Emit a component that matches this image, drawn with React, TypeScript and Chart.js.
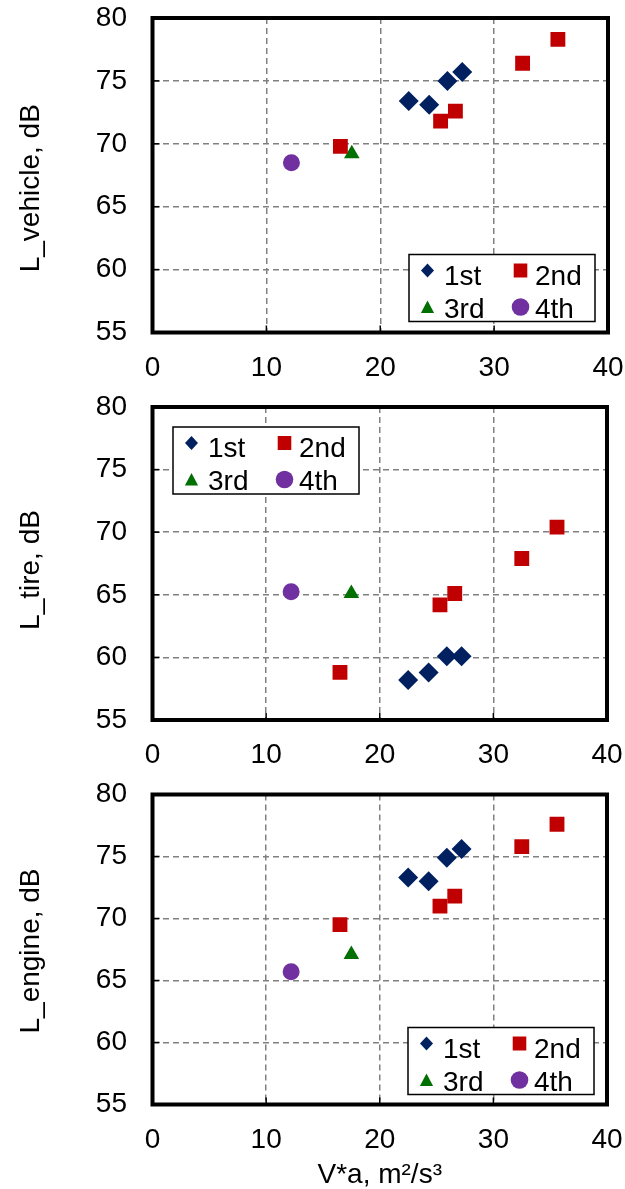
import React, { useEffect, useRef } from "react";
import { Chart, registerables } from "chart.js";

Chart.register(...registerables);

const FONT = '"Liberation Sans", Arial, Helvetica, sans-serif';

// Gear names shown in the legends
const gearLabels = ["1st", "2nd", "3rd", "4th"];

// V*a values (m²/s³) per gear, shared by all three panels
const gear1X = [22.5, 24.3, 25.9, 27.2];
const gear2X = [16.5, 25.3, 26.6, 32.5, 35.6];
const gear3X = [17.5];
const gear4X = [12.2];

// L_vehicle, dB
const vehicle1st = [73.4, 73.1, 75.0, 75.7];
const vehicle2nd = [69.8, 71.8, 72.6, 76.4, 78.3];
const vehicle3rd = [69.2];
const vehicle4th = [68.5];

// L_tire, dB
const tire1st = [58.2, 58.8, 60.1, 60.1];
const tire2nd = [58.8, 64.2, 65.1, 67.9, 70.4];
const tire3rd = [65.1];
const tire4th = [65.25];

// L_engine, dB
const engine1st = [73.3, 73.0, 74.9, 75.6];
const engine2nd = [69.5, 71.0, 71.8, 75.8, 77.6];
const engine3rd = [67.1];
const engine4th = [65.7];

// Axis ranges
const xMin = 0;
const xMax = 40;
const xStep = 10;
const yMin = 55;
const yMax = 80;
const yStep = 5;

const xTitle = "V*a, m²/s³";

// Marker look for each gear
const gearStyles = [
  { pointStyle: "rectRot", color: "#002060", radius: 10 },
  { pointStyle: "rect", color: "#C00000", radius: 10.5 },
  { pointStyle: "triangle", color: "#007000", radius: 9 },
  { pointStyle: "circle", color: "#7030A0", radius: 8.5 },
];

const gearXs = [gear1X, gear2X, gear3X, gear4X];

function buildDatasets(ys: number[][]) {
  return gearLabels.map((label, i) => ({
    label,
    data: gearXs[i].map((x, j) => ({ x, y: ys[i][j] })),
    pointStyle: gearStyles[i].pointStyle,
    pointRadius: gearStyles[i].radius,
    pointHoverRadius: gearStyles[i].radius,
    backgroundColor: gearStyles[i].color,
    borderColor: gearStyles[i].color,
    borderWidth: 0,
    pointBorderWidth: 0,
    showLine: false,
  }));
}

// Small legend marker shapes
function drawLegendMarker(ctx: CanvasRenderingContext2D, style: string, x: number, y: number, color: string) {
  ctx.fillStyle = color;
  ctx.beginPath();
  if (style === "rectRot") {
    ctx.moveTo(x, y - 7);
    ctx.lineTo(x + 6.5, y);
    ctx.lineTo(x, y + 7);
    ctx.lineTo(x - 6.5, y);
    ctx.closePath();
  } else if (style === "rect") {
    ctx.rect(x - 6.8, y - 7, 13.6, 14);
  } else if (style === "triangle") {
    ctx.moveTo(x, y - 6.5);
    ctx.lineTo(x + 6.6, y + 6);
    ctx.lineTo(x - 6.6, y + 6);
    ctx.closePath();
  } else {
    ctx.arc(x, y, 8.8, 0, Math.PI * 2);
  }
  ctx.fill();
}

// Boxed 2x2 legend placed inside the plot area
function boxLegend(corner: "tl" | "br", gapX: number, gapY: number) {
  return {
    id: "boxLegend",
    afterDatasetsDraw(chart: any) {
      const { ctx, chartArea: a } = chart;
      const W = 186;
      const H = 67;
      const left = corner === "tl" ? a.left + gapX : a.right - gapX - W;
      const top = corner === "tl" ? a.top + gapY : a.bottom - gapY - H;
      ctx.save();
      ctx.fillStyle = "#ffffff";
      ctx.fillRect(left, top, W, H);
      ctx.strokeStyle = "#000000";
      ctx.lineWidth = 1.5;
      ctx.strokeRect(left, top, W, H);
      chart.data.datasets.forEach((ds: any, i: number) => {
        const col = i % 2;
        const row = Math.floor(i / 2);
        const mx = left + (col ? 111.5 : 18.5);
        const my = top + (row ? 52.5 : 16);
        drawLegendMarker(ctx, ds.pointStyle, mx, my, ds.backgroundColor);
        ctx.fillStyle = "#000000";
        ctx.font = `28px ${FONT}`;
        ctx.textAlign = "left";
        ctx.textBaseline = "alphabetic";
        ctx.fillText(ds.label, left + (col ? 126 : 35), top + (row ? 63 : 30));
      });
      ctx.restore();
    },
  };
}

// Heavy frame around the plot with short inward tick marks
const framePlugin = {
  id: "plotFrame",
  beforeDatasetsDraw(chart: any) {
    const { ctx, chartArea: a, scales } = chart;
    ctx.save();
    ctx.strokeStyle = "#000000";
    ctx.lineWidth = 1.5;
    scales.x.ticks.forEach((t: any) => {
      if (t.value <= xMin || t.value >= xMax) return;
      const px = scales.x.getPixelForValue(t.value);
      ctx.beginPath();
      ctx.moveTo(px, a.bottom);
      ctx.lineTo(px, a.bottom - 7);
      ctx.stroke();
    });
    scales.y.ticks.forEach((t: any) => {
      if (t.value <= yMin || t.value >= yMax) return;
      const py = scales.y.getPixelForValue(t.value);
      ctx.beginPath();
      ctx.moveTo(a.left, py);
      ctx.lineTo(a.left + 7, py);
      ctx.stroke();
    });
    ctx.lineWidth = 4;
    ctx.strokeRect(a.left, a.top, a.right - a.left, a.bottom - a.top);
    ctx.restore();
  },
};

// Rotated y-axis title drawn beside the tick labels
function sideTitle(text: string, shift: number) {
  return {
    id: "sideTitle",
    afterDraw(chart: any) {
      const { ctx, chartArea: a } = chart;
      ctx.save();
      ctx.translate(39, (a.top + a.bottom) / 2 + shift);
      ctx.rotate(-Math.PI / 2);
      ctx.fillStyle = "#000000";
      ctx.font = `28px ${FONT}`;
      ctx.textAlign = "center";
      ctx.textBaseline = "alphabetic";
      ctx.fillText(text, 0, 0);
      ctx.restore();
    },
  };
}

const gridColor = (edgeMin: number, edgeMax: number) => (c: any) =>
  c.tick && (c.tick.value <= edgeMin || c.tick.value >= edgeMax) ? "rgba(0,0,0,0)" : "#808080";

type PanelProps = {
  top: number;
  height: number;
  padTop: number;
  padRight: number;
  xAxisHeight: number;
  yTitle: string;
  titleShift: number;
  ys: number[][];
  legendCorner: "tl" | "br";
  legendGapX: number;
  legendGapY: number;
  showXTitle: boolean;
};

function Panel(p: PanelProps) {
  const ref = useRef<HTMLCanvasElement | null>(null);

  useEffect(() => {
    if (!ref.current) return;
    const chart = new Chart(ref.current, {
      type: "scatter",
      data: { datasets: buildDatasets(p.ys) as any },
      options: {
        animation: false,
        responsive: false,
        devicePixelRatio: 1,
        events: [],
        layout: { padding: { left: 0, right: p.padRight, top: p.padTop, bottom: 0 } },
        plugins: {
          legend: { display: false },
          tooltip: { enabled: false },
        },
        scales: {
          x: {
            type: "linear",
            min: xMin,
            max: xMax,
            afterFit: (s: any) => {
              s.height = p.xAxisHeight;
              s.paddingLeft = 0;
              s.paddingRight = 0;
            },
            ticks: {
              stepSize: xStep,
              padding: 18.5,
              maxRotation: 0,
              color: "#000000",
              font: { family: FONT, size: 28 },
            },
            grid: {
              color: gridColor(xMin, xMax),
              lineWidth: 1.5,
              drawTicks: false,
            },
            border: { display: false, dash: [6, 4] },
            title: {
              display: p.showXTitle,
              text: xTitle,
              color: "#000000",
              font: { family: FONT, size: 28, lineHeight: 1 },
              padding: { top: 0, bottom: 0 },
            },
          },
          y: {
            type: "linear",
            min: yMin,
            max: yMax,
            afterFit: (s: any) => {
              s.width = 152.5;
              s.paddingTop = 0;
              s.paddingBottom = 0;
            },
            ticks: {
              stepSize: yStep,
              padding: 25.5,
              color: "#000000",
              font: { family: FONT, size: 28 },
            },
            grid: {
              color: gridColor(yMin, yMax),
              lineWidth: 1.5,
              drawTicks: false,
            },
            border: { display: false, dash: [6, 4] },
          },
        },
      } as any,
      plugins: [
        framePlugin,
        boxLegend(p.legendCorner, p.legendGapX, p.legendGapY),
        sideTitle(p.yTitle, p.titleShift),
      ] as any,
    });
    return () => chart.destroy();
  }, []);

  return (
    <canvas
      ref={ref}
      width={625}
      height={p.height}
      style={{ position: "absolute", left: 0, top: p.top, width: 625, height: p.height, display: "block" }}
    />
  );
}

export default function App() {
  return (
    <div style={{ position: "absolute", left: 0, top: 0, width: 625, height: 1189, background: "#ffffff" }}>
      <Panel
        top={0}
        height={390}
        padTop={18}
        padRight={17}
        xAxisHeight={57.5}
        yTitle="L_vehicle, dB"
        titleShift={13}
        ys={[vehicle1st, vehicle2nd, vehicle3rd, vehicle4th]}
        legendCorner="br"
        legendGapX={13}
        legendGapY={11}
        showXTitle={false}
      />
      <Panel
        top={390}
        height={390}
        padTop={17}
        padRight={18}
        xAxisHeight={60}
        yTitle="L_tire, dB"
        titleShift={6.5}
        ys={[tire1st, tire2nd, tire3rd, tire4th]}
        legendCorner="tl"
        legendGapX={20.5}
        legendGapY={20}
        showXTitle={false}
      />
      <Panel
        top={780}
        height={409}
        padTop={14.5}
        padRight={18}
        xAxisHeight={84.5}
        yTitle="L_engine, dB"
        titleShift={1.5}
        ys={[engine1st, engine2nd, engine3rd, engine4th]}
        legendCorner="br"
        legendGapX={13}
        legendGapY={10}
        showXTitle={true}
      />
    </div>
  );
}
